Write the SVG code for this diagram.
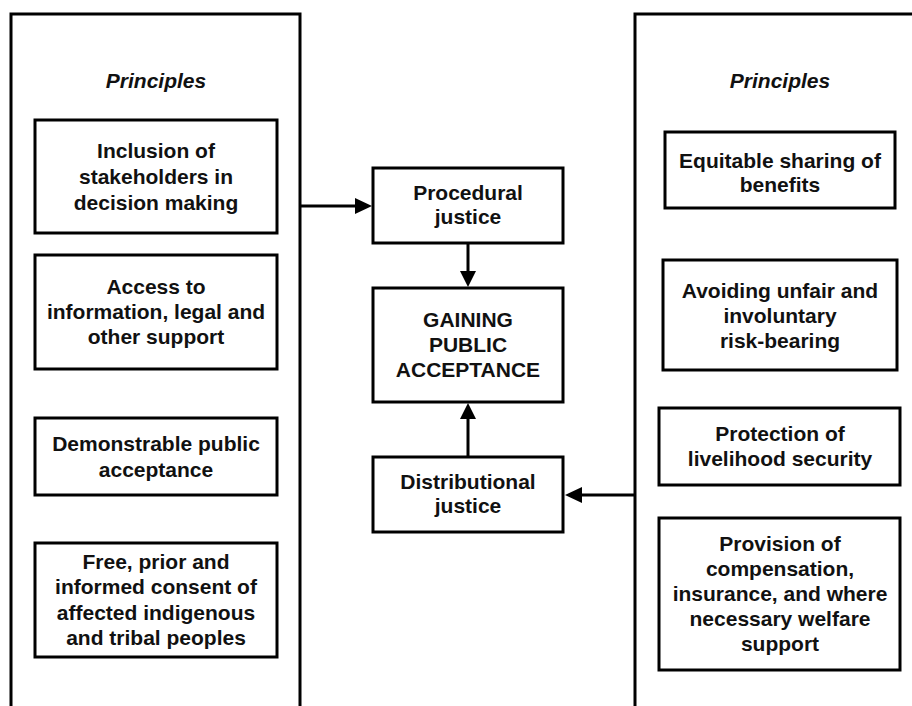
<svg xmlns="http://www.w3.org/2000/svg" width="912" height="706" viewBox="0 0 912 706">
<style>
  .panel { fill: none; stroke: #000; stroke-width: 3; }
  .box { fill: #fff; stroke: #000; stroke-width: 3; }
  text { font-family: "Liberation Sans", Arial, sans-serif; font-weight: bold; font-size: 21px; fill: #111; text-anchor: middle; }
  .title { font-style: italic; }
  .conn { fill: none; stroke: #000; stroke-width: 3; }
</style>
<defs>
  <marker id="arrow" markerWidth="8" markerHeight="8" refX="7" refY="4" orient="auto" markerUnits="userSpaceOnUse" viewBox="0 0 8 8">
  </marker>
</defs>
<rect width="912" height="706" fill="#fff"/>

<g id="left-panel">
  <path class="panel" d="M11,720 V14 H300 V720"/>
  <text class="title" x="156" y="88">Principles</text>
</g>
<g id="right-panel">
  <path class="panel" d="M635,720 V14 H915"/>
  <text class="title" x="780" y="88">Principles</text>
</g>

<g id="inclusion">
  <rect class="box" x="35" y="120" width="242" height="113"/>
  <text x="156" y="158">Inclusion of</text>
  <text x="156" y="184">stakeholders in</text>
  <text x="156" y="210">decision making</text>
</g>
<g id="access">
  <rect class="box" x="35" y="255" width="242" height="114"/>
  <text x="156" y="294">Access to</text>
  <text x="156" y="319">information, legal and</text>
  <text x="156" y="344">other support</text>
</g>
<g id="demonstrable">
  <rect class="box" x="35" y="418" width="242" height="77"/>
  <text x="156" y="451">Demonstrable public</text>
  <text x="156" y="477">acceptance</text>
</g>
<g id="fpic">
  <rect class="box" x="35" y="543" width="242" height="114"/>
  <text x="156" y="569">Free, prior and</text>
  <text x="156" y="594">informed consent of</text>
  <text x="156" y="620">affected indigenous</text>
  <text x="156" y="645">and tribal peoples</text>
</g>

<g id="procedural">
  <rect class="box" x="373" y="168" width="190" height="75"/>
  <text x="468" y="200">Procedural</text>
  <text x="468" y="224">justice</text>
</g>
<g id="gaining">
  <rect class="box" x="373" y="288" width="190" height="114"/>
  <text x="468" y="327">GAINING</text>
  <text x="468" y="352">PUBLIC</text>
  <text x="468" y="377">ACCEPTANCE</text>
</g>
<g id="distributional">
  <rect class="box" x="373" y="457" width="190" height="75"/>
  <text x="468" y="489">Distributional</text>
  <text x="468" y="513">justice</text>
</g>

<g id="equitable">
  <rect class="box" x="665" y="132" width="230" height="76"/>
  <text x="780" y="168">Equitable sharing of</text>
  <text x="780" y="192">benefits</text>
</g>
<g id="avoiding">
  <rect class="box" x="663" y="260" width="234" height="110"/>
  <text x="780" y="298">Avoiding unfair and</text>
  <text x="780" y="323">involuntary</text>
  <text x="780" y="348">risk-bearing</text>
</g>
<g id="protection">
  <rect class="box" x="659" y="408" width="241" height="77"/>
  <text x="780" y="441">Protection of</text>
  <text x="780" y="466">livelihood security</text>
</g>
<g id="provision">
  <rect class="box" x="659" y="518" width="241" height="152"/>
  <text x="780" y="551">Provision of</text>
  <text x="780" y="576">compensation,</text>
  <text x="780" y="601">insurance, and where</text>
  <text x="780" y="626">necessary welfare</text>
  <text x="780" y="651">support</text>
</g>

<g id="connectors">
  <line class="conn" x1="300" y1="206" x2="356" y2="206"/>
  <polygon points="372,206 355,198 355,214" fill="#000"/>
  <line class="conn" x1="468" y1="243" x2="468" y2="272"/>
  <polygon points="468,287 460,271 476,271" fill="#000"/>
  <line class="conn" x1="468" y1="457" x2="468" y2="419"/>
  <polygon points="468,403 460,419 476,419" fill="#000"/>
  <line class="conn" x1="635" y1="495" x2="581" y2="495"/>
  <polygon points="565,495 582,487 582,503" fill="#000"/>
</g>
</svg>
